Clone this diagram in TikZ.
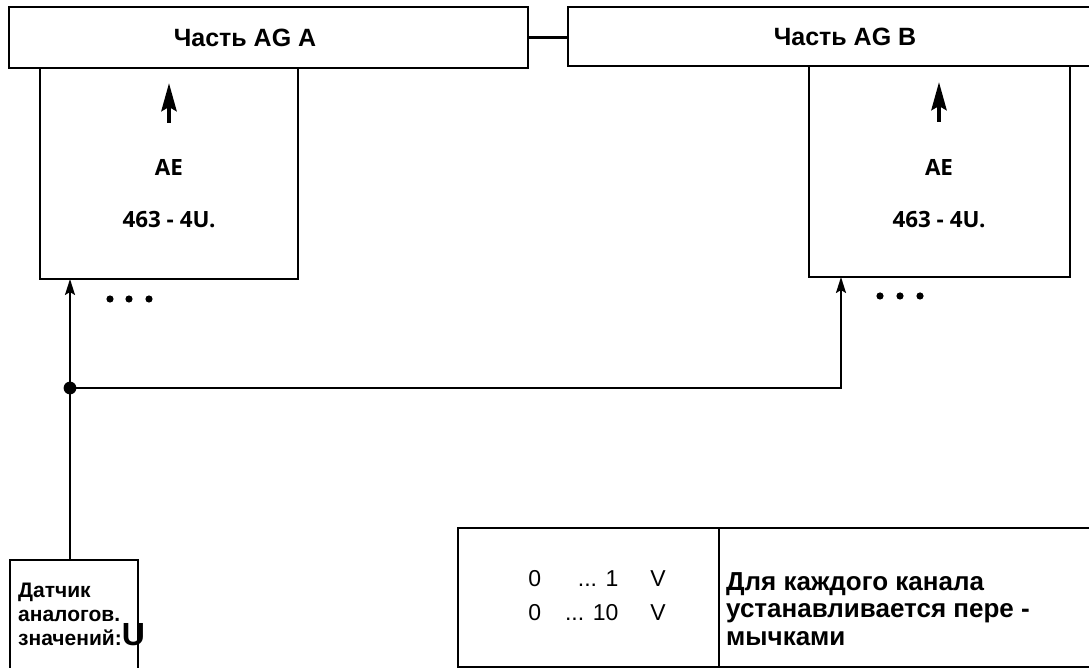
\documentclass[tikz,border=0pt]{standalone}
\usepackage{fontspec}
\setmainfont{Liberation Sans}
\newfontfamily\aefont{Open Sans}
\usetikzlibrary{arrows.meta}

\begin{document}
\begin{tikzpicture}
[x=0.5pt,y=-0.5pt,line width=1.2pt,
 box/.style={draw,rectangle,inner sep=0pt},
 title/.style={font=\bfseries\fontsize{12.5}{15}\selectfont},
 ae/.style={font=\aefont\bfseries\fontsize{11.2}{13}\selectfont},
 sig/.style={-{Stealth[length=8pt,width=5pt,inset=1.5pt]},line width=1pt},
 up/.style={-{Stealth[length=14pt,width=7.5pt,inset=2pt]},line width=2.2pt}]
\useasboundingbox (0,0) rectangle (1089,668);

% the two parts of the automation device
\node[box,minimum width=259.5pt,minimum height=30.5pt] (partA) at (268.5,37.5) {};
\node[title] (partAtxt) at (245,38) {Часть AG A};
\node[box,minimum width=266pt,minimum height=29.5pt] (partB) at (834,36.5) {};
\node[title] (partBtxt) at (845,37) {Часть AG B};
\draw (partA.east) -- (partA.east -| partB.west);

% input modules
\node[box,minimum width=129pt,minimum height=105.5pt] (aeA) at (169,173.5) {};
\node[ae] (aeAname) at (169,167) {AE};
\node[ae] (aeAtype) at (169,220) {463 - 4U.};
\node[box,minimum width=130.5pt,minimum height=105.5pt] (aeB) at (939.5,171.5) {};
\node[ae] (aeBname) at (939,167) {AE};
\node[ae] (aeBtype) at (939,220) {463 - 4U.};
\coordinate (upA) at (169,123);
\coordinate (upAtip) at (169,83);
\coordinate (upB) at (939,122);
\coordinate (upBtip) at (939,82);
\draw[up] (upA) -- (upAtip);
\draw[up] (upB) -- (upBtip);
\foreach \x in {110,129,149} \fill (\x,299) circle (1.8pt);
\foreach \x in {880,900,920} \fill (\x,296) circle (1.8pt);

% sensor
\node[box,minimum width=64pt,minimum height=62pt] (sensor) at (74,622) {};
\node[anchor=north west,inner sep=0pt,align=left,
      font=\bfseries\fontsize{10.5}{12}\selectfont] (sensortxt) at (17,582)
  {Датчик\\аналогов.\\значений:{\fontsize{16}{16}\selectfont U}};

% signal lines
\coordinate (junc) at (70,388);
\coordinate (inA) at (70,279);
\coordinate (inB) at (841,277);
\draw (sensor.north -| junc) -- (junc);
\draw[sig] (junc) -- (inA);
\draw[sig] (junc) -| (inB);
\fill (junc) circle (3.2pt);

% range table
\node[box,minimum width=130.5pt,minimum height=69.5pt] (range) at (588.5,597.5) {};
\node[box,minimum width=190.5pt,minimum height=69.5pt] (note) at (909.5,597.5) {};
\node[font=\fontsize{11.5}{14.5}\selectfont] (rangetxt) at (597,598)
  {\begin{tabular}{@{}l@{\hspace{12pt}}r@{\hspace{16pt}}l@{}}
   0&... 1&V\\[2.5pt]
   0&... 10&V
   \end{tabular}};
\node[anchor=north west,inner sep=0pt,align=left,
      font=\bfseries\fontsize{13}{13.75}\selectfont] (notetxt) at (725,571)
  {Для каждого канала\\устанавливается пере -\\мычками};
\end{tikzpicture}
\end{document}
